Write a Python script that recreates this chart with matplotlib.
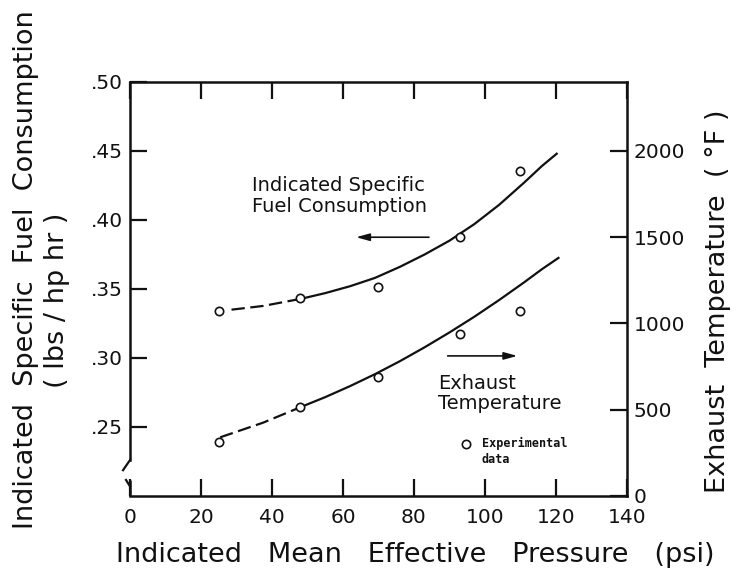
import matplotlib.pyplot as plt

# experimental points (IMEP in psi)
imep = [25, 48, 70, 93, 110]
isfc = [0.334, 0.3435, 0.3515, 0.388, 0.4355]
exhaust_temp = [313, 516, 690, 939, 1072]

# faired curves
isfc_dash_x = [28.6, 37.5, 48.4]
isfc_dash_y = [0.335, 0.3377, 0.343]
isfc_line_x = [48.4, 55, 62, 69, 76, 83, 90, 97, 104, 111, 116, 120.2]
isfc_line_y = [0.343, 0.347, 0.352, 0.358, 0.366, 0.375, 0.385, 0.397,
               0.411, 0.427, 0.439, 0.448]

temp_dash_x = [25.4, 37.5, 48.4]
temp_dash_y = [340, 425, 518]
temp_line_x = [48.4, 55, 62, 69, 76, 83, 90, 97, 104, 111, 116, 120.7]
temp_line_y = [518, 573, 637, 706, 781, 862, 948, 1039, 1136, 1238, 1314, 1380]

x_ticks = [0, 20, 40, 60, 80, 100, 120, 140]
left_ticks = [0.25, 0.30, 0.35, 0.40, 0.45, 0.50]
left_labels = ['.25', '.30', '.35', '.40', '.45', '.50']
right_ticks = [0, 500, 1000, 1500, 2000]

ink = '#111111'
plt.rcParams['font.family'] = 'DejaVu Sans'

fig = plt.figure(figsize=(7.39, 5.68), dpi=100)
ax = fig.add_axes([0.1759, 0.1268, 0.6725, 0.7289])
ax2 = ax.twinx()

ax.set_xlim(0, 140)
ax.set_ylim(0.20, 0.50)
ax2.set_ylim(0, 2400)

# curves
ax.plot(isfc_dash_x, isfc_dash_y, color=ink, lw=1.6, ls=(0, (6, 2.5)))
ax.plot(isfc_line_x, isfc_line_y, color=ink, lw=1.6)
ax.plot(imep, isfc, 'o', mfc='white', mec=ink, ms=6, mew=1.2, zorder=5)

ax2.plot(temp_dash_x, temp_dash_y, color=ink, lw=1.6, ls=(0, (6, 2.5)))
ax2.plot(temp_line_x, temp_line_y, color=ink, lw=1.6)
ax2.plot(imep, exhaust_temp, 'o', mfc='white', mec=ink, ms=6, mew=1.2, zorder=5)

# annotations
ax.text(34.3, 0.4174, 'Indicated Specific\nFuel Consumption', fontsize=14,
        ha='left', va='center', color=ink, linespacing=1.1)
ax.annotate('', xy=(62.9, 0.3875), xytext=(85, 0.3875),
            arrowprops=dict(arrowstyle='-|>,head_length=0.8,head_width=0.22',
                            lw=1.2, color=ink))
ax.text(86.8, 0.2744, 'Exhaust\nTemperature', fontsize=14,
        ha='left', va='center', color=ink, linespacing=1.1)
ax.annotate('', xy=(109.9, 0.3015), xytext=(88.7, 0.3015),
            arrowprops=dict(arrowstyle='-|>,head_length=0.8,head_width=0.22',
                            lw=1.2, color=ink))
ax.plot([94.6], [0.2377], 'o', mfc='white', mec=ink, ms=6, mew=1.2)
ax.text(99.1, 0.2326, 'Experimental\ndata', fontsize=8.5, family='DejaVu Sans Mono',
        fontweight='bold', ha='left', va='center', color=ink, linespacing=1.3)

# ticks and spines
ax.set_xticks(x_ticks)
ax.set_xticklabels([str(v) for v in x_ticks])
ax.set_yticks(left_ticks)
ax.set_yticklabels(left_labels)
ax2.set_yticks(right_ticks)
ax2.set_yticklabels([str(v) for v in right_ticks])

ax.tick_params(axis='x', direction='in', length=12, width=1.6, pad=9,
               labelsize=14.5, top=True, colors=ink)
ax.tick_params(axis='y', direction='in', length=12, width=1.6, pad=5,
               labelsize=14.5, colors=ink)
ax2.tick_params(axis='y', direction='in', length=12, width=1.6, pad=5,
                labelsize=14.5, colors=ink)

for side in ['top', 'bottom', 'left']:
    ax.spines[side].set_linewidth(1.8)
    ax.spines[side].set_color(ink)
ax.spines['right'].set_visible(False)
for side in ['top', 'bottom', 'left']:
    ax2.spines[side].set_visible(False)
ax2.spines['right'].set_linewidth(1.8)
ax2.spines['right'].set_color(ink)

# axis break on the left spine
ax.spines['left'].set_bounds(0.226, 0.50)
tr = ax.get_yaxis_transform()
ax.plot([0, 0], [0.20, 0.2116], color=ink, lw=1.8, transform=tr, clip_on=False,
        solid_capstyle='butt')
ax.plot([0, -0.014], [0.226, 0.2187], color=ink, lw=1.6, transform=tr, clip_on=False)
ax.plot([-0.008, 0], [0.2116, 0.2070], color=ink, lw=1.6, transform=tr, clip_on=False)

# axis titles
fig.text(0.5616, 0.0229, 'Indicated   Mean   Effective   Pressure   (psi)',
         fontsize=19.5, ha='center', va='center', color=ink)
fig.text(0.0352, 0.5246, 'Indicated  Specific  Fuel  Consumption',
         fontsize=19.5, rotation=90, ha='center', va='center', color=ink)
fig.text(0.0771, 0.4718, '( lbs / hp hr )', fontsize=19.5, rotation=90,
         ha='center', va='center', color=ink)
fig.text(0.972, 0.47, 'Exhaust  Temperature  ( °F )', fontsize=19.5, rotation=90,
         ha='center', va='center', color=ink)

fig.savefig('out.png', dpi=100)
